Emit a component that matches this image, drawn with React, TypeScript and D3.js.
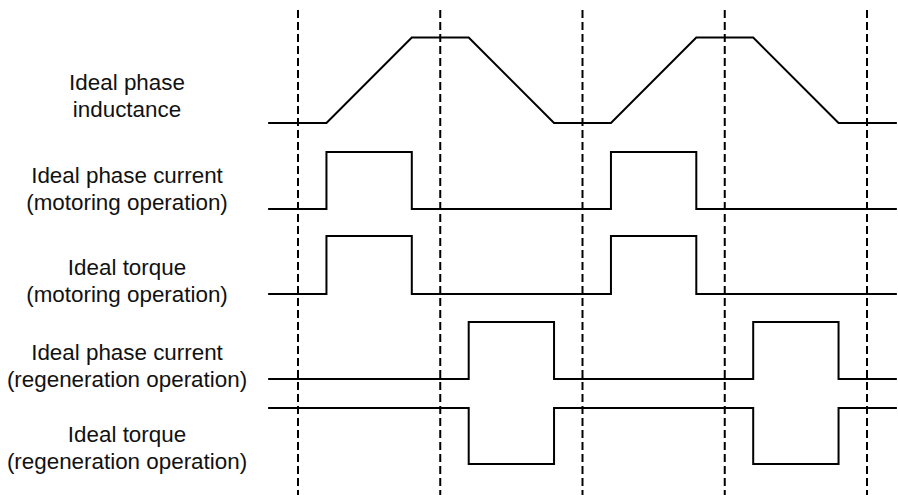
import React, { useEffect, useRef } from "react";
import * as d3 from "d3";

// rotor position in units of one dashed-line interval
const boundaries = [0, 1, 2, 3, 4];
const tStart = -0.21;
const tEnd = 4.21;

// [position, level] breakpoints of each waveform
const inductance: [number, number][] = [
  [tStart, 0], [0.2, 0], [0.8, 1], [1.2, 1], [1.8, 0],
  [2.2, 0], [2.8, 1], [3.2, 1], [3.8, 0], [tEnd, 0],
];
const currentMotoring: [number, number][] = [
  [tStart, 0], [0.2, 0], [0.2, 1], [0.8, 1], [0.8, 0],
  [2.2, 0], [2.2, 1], [2.8, 1], [2.8, 0], [tEnd, 0],
];
const torqueMotoring: [number, number][] = [
  [tStart, 0], [0.2, 0], [0.2, 1], [0.8, 1], [0.8, 0],
  [2.2, 0], [2.2, 1], [2.8, 1], [2.8, 0], [tEnd, 0],
];
const currentRegen: [number, number][] = [
  [tStart, 0], [1.2, 0], [1.2, 1], [1.8, 1], [1.8, 0],
  [3.2, 0], [3.2, 1], [3.8, 1], [3.8, 0], [tEnd, 0],
];
const torqueRegen: [number, number][] = [
  [tStart, 0], [1.2, 0], [1.2, -1], [1.8, -1], [1.8, 0],
  [3.2, 0], [3.2, -1], [3.8, -1], [3.8, 0], [tEnd, 0],
];

const labels: string[][] = [
  ["Ideal phase", "inductance"],
  ["Ideal phase current", "(motoring operation)"],
  ["Ideal torque", "(motoring operation)"],
  ["Ideal phase current", "(regeneration operation)"],
  ["Ideal torque", "(regeneration operation)"],
];

const signals = [inductance, currentMotoring, torqueMotoring, currentRegen, torqueRegen];

const App = () => {
  const svgRef = useRef<SVGSVGElement>(null);
  const width = 898;
  const height = 495;

  useEffect(() => {
    const svg = d3.select(svgRef.current);
    svg.selectAll("*").remove();

    const x = d3.scaleLinear().domain([0, 4]).range([298, 867]);

    // baseline and amplitude (px) of each row
    const rows = [
      { base: 123, amp: 85.5, label: 95 },
      { base: 209, amp: 57, label: 188 },
      { base: 294, amp: 58, label: 280 },
      { base: 379, amp: 57, label: 365 },
      { base: 408, amp: 56, label: 447 },
    ];

    svg.append("g")
      .selectAll("line")
      .data(boundaries)
      .join("line")
      .attr("x1", d => x(d))
      .attr("x2", d => x(d))
      .attr("y1", 10)
      .attr("y2", height)
      .attr("stroke", "#000")
      .attr("stroke-width", 2)
      .attr("stroke-dasharray", "8,4");

    signals.forEach((sig, i) => {
      const r = rows[i];
      const y = d3.scaleLinear().domain([0, 1]).range([r.base, r.base - r.amp]);
      const line = d3.line<[number, number]>()
        .x(d => x(d[0]))
        .y(d => y(d[1]));
      svg.append("path")
        .datum(sig)
        .attr("d", line)
        .attr("fill", "none")
        .attr("stroke", "#000")
        .attr("stroke-width", 2)
        .attr("stroke-linejoin", "miter");

      const t = svg.append("text")
        .attr("x", 127)
        .attr("y", r.label)
        .attr("text-anchor", "middle")
        .attr("font-family", "Liberation Sans, Arial, sans-serif")
        .attr("font-size", 22.4)
        .attr("fill", "#111");
      labels[i].forEach((s, j) => {
        t.append("tspan")
          .attr("x", 127)
          .attr("dy", j === 0 ? -5 : 26.5)
          .text(s);
      });
    });
  }, []);

  return (
    <svg ref={svgRef} width={width} height={height}
      style={{ position: "absolute", left: 0, top: 0, background: "#fff" }} />
  );
};

export default App;
